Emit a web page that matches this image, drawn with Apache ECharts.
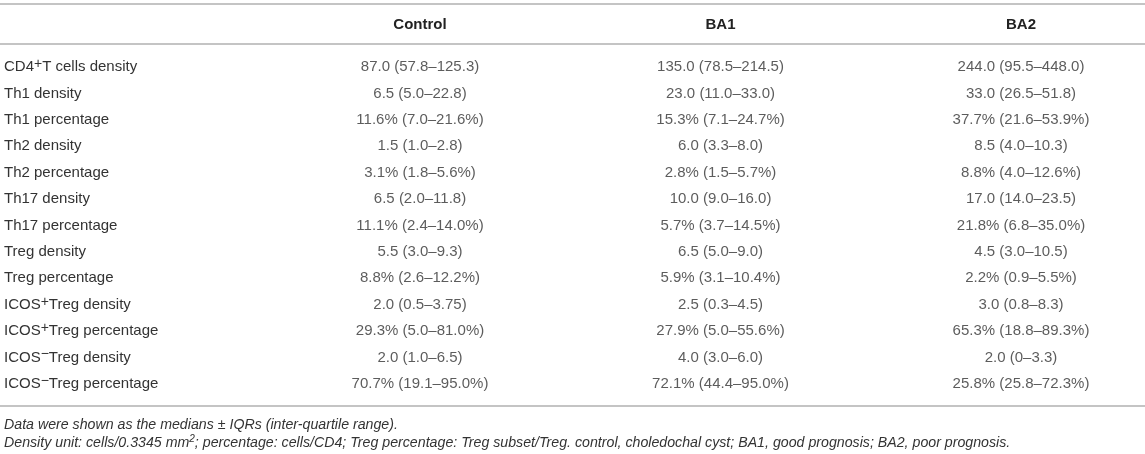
<!DOCTYPE html>
<html>
<head>
<meta charset="utf-8">
<script src="https://cdn.jsdelivr.net/npm/echarts@6/dist/echarts.min.js"></script>
<style>
html,body{margin:0;padding:0;background:#fff;}
#chart{width:1145px;height:454px;}
</style>
</head>
<body>
<div id="chart"></div>
<script>
const groups = ['Control', 'BA1', 'BA2'];
const rows = ['CD4⁺T cells density', 'Th1 density', 'Th1 percentage', 'Th2 density', 'Th2 percentage',
  'Th17 density', 'Th17 percentage', 'Treg density', 'Treg percentage', 'ICOS⁺Treg density',
  'ICOS⁺Treg percentage', 'ICOS⁻Treg density', 'ICOS⁻Treg percentage'];
const control = ['87.0 (57.8–125.3)', '6.5 (5.0–22.8)', '11.6% (7.0–21.6%)', '1.5 (1.0–2.8)', '3.1% (1.8–5.6%)',
  '6.5 (2.0–11.8)', '11.1% (2.4–14.0%)', '5.5 (3.0–9.3)', '8.8% (2.6–12.2%)', '2.0 (0.5–3.75)',
  '29.3% (5.0–81.0%)', '2.0 (1.0–6.5)', '70.7% (19.1–95.0%)'];
const ba1 = ['135.0 (78.5–214.5)', '23.0 (11.0–33.0)', '15.3% (7.1–24.7%)', '6.0 (3.3–8.0)', '2.8% (1.5–5.7%)',
  '10.0 (9.0–16.0)', '5.7% (3.7–14.5%)', '6.5 (5.0–9.0)', '5.9% (3.1–10.4%)', '2.5 (0.3–4.5)',
  '27.9% (5.0–55.6%)', '4.0 (3.0–6.0)', '72.1% (44.4–95.0%)'];
const ba2 = ['244.0 (95.5–448.0)', '33.0 (26.5–51.8)', '37.7% (21.6–53.9%)', '8.5 (4.0–10.3)', '8.8% (4.0–12.6%)',
  '17.0 (14.0–23.5)', '21.8% (6.8–35.0%)', '4.5 (3.0–10.5)', '2.2% (0.9–5.5%)', '3.0 (0.8–8.3)',
  '65.3% (18.8–89.3%)', '2.0 (0–3.3)', '25.8% (25.8–72.3%)'];
const footnotes = ['Data were shown as the medians ± IQRs (inter-quartile range).',
  'Density unit: cells/0.3345 mm²; percentage: cells/CD4; Treg percentage: Treg subset/Treg. control, choledochal cyst; BA1, good prognosis; BA2, poor prognosis.'];

const values = [control, ba1, ba2];
const FONT = '"Liberation Sans", Arial, Helvetica, sans-serif';
const TXT = '#333';
const RULE = '#c4c4c4';

function supify(s) {
  return s.replace(/⁺/g, '{sup|+}').replace(/⁻/g, '{sup|−}').replace(/²/g, '{sup2|2}');
}

const chart = echarts.init(document.getElementById('chart'), null, {renderer: 'canvas'});

const series = groups.map((g, gi) => ({
  type: 'scatter',
  name: g,
  symbolSize: 0,
  silent: true,
  data: rows.map((r, ri) => [g, r, values[gi][ri]]),
  label: {
    show: true,
    position: 'inside',
    formatter: p => p.value[2],
    fontFamily: FONT,
    fontSize: 15,
    color: TXT
  }
}));

const option = {
  animation: false,
  backgroundColor: '#fff',
  grid: {left: 420, right: 124, top: 67, bottom: 70},
  xAxis: {
    type: 'category',
    position: 'top',
    data: groups,
    boundaryGap: false,
    axisLine: {show: false},
    axisTick: {show: false},
    splitLine: {show: false},
    axisLabel: {
      interval: 0,
      margin: 35,
      fontFamily: FONT,
      fontSize: 15,
      fontWeight: 'bold',
      color: '#222',
      lineHeight: 14
    }
  },
  yAxis: {
    type: 'category',
    data: rows,
    inverse: true,
    boundaryGap: false,
    offset: 416,
    axisLine: {show: false},
    axisTick: {show: false},
    splitLine: {show: false},
    axisLabel: {
      interval: 0,
      align: 'left',
      margin: 0,
      fontFamily: FONT,
      fontSize: 15,
      color: TXT,
      lineHeight: 20,
      formatter: v => supify(v),
      rich: {
        sup: {fontFamily: FONT, fontSize: 14, color: TXT, lineHeight: 14, verticalAlign: 'top'}
      }
    }
  },
  title: {
    left: 4,
    top: 416,
    padding: 0,
    text: footnotes.map(supify).join('\n'),
    textStyle: {
      fontFamily: FONT,
      fontSize: 14.2,
      fontStyle: 'italic',
      fontWeight: 'normal',
      color: TXT,
      lineHeight: 18,
      rich: {
        sup2: {fontFamily: FONT, fontSize: 10, fontStyle: 'italic', color: TXT, lineHeight: 12, verticalAlign: 'top'}
      }
    }
  },
  graphic: [
    {type: 'line', silent: true, shape: {x1: 0, y1: 4, x2: 1145, y2: 4}, style: {stroke: RULE, lineWidth: 2}},
    {type: 'line', silent: true, shape: {x1: 0, y1: 44, x2: 1145, y2: 44}, style: {stroke: RULE, lineWidth: 2}},
    {type: 'line', silent: true, shape: {x1: 0, y1: 406, x2: 1145, y2: 406}, style: {stroke: RULE, lineWidth: 2}}
  ],
  series: series
};
chart.setOption(option);
</script>
</body>
</html>
